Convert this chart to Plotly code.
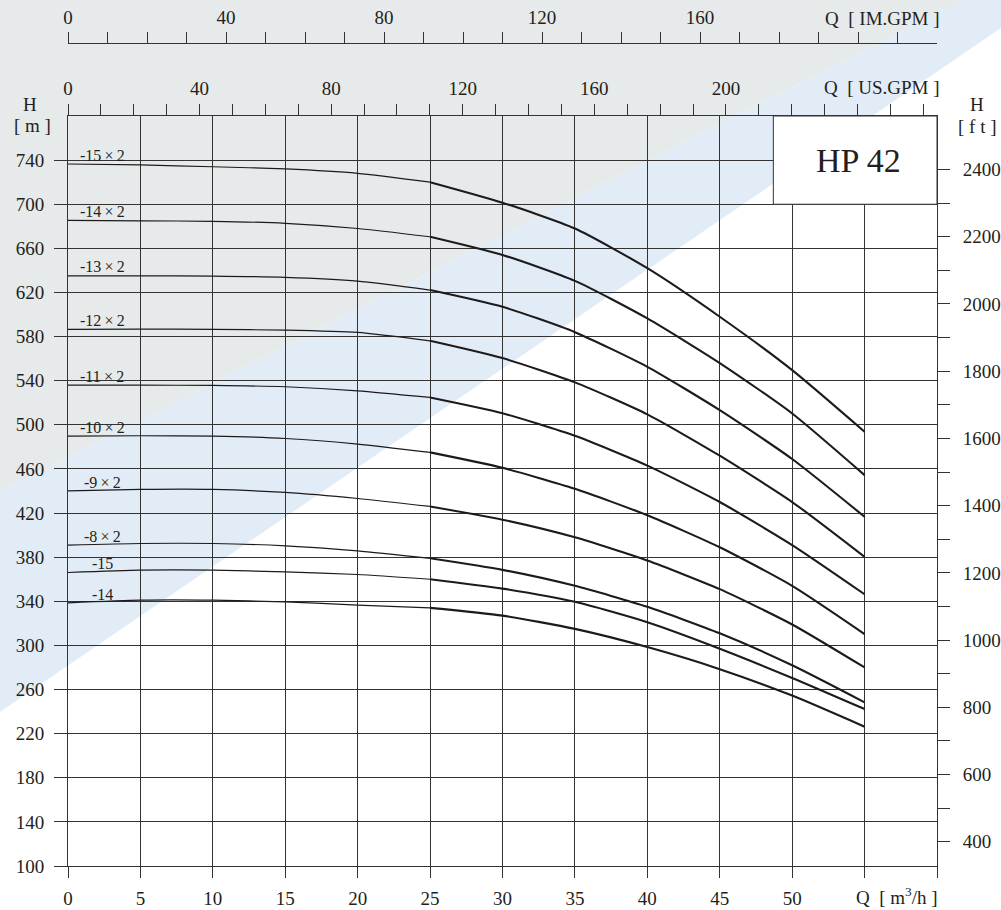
import plotly.graph_objects as go

# ---------------- data ----------------
Q = [0, 5, 10, 15, 20, 25, 30, 35, 40, 45, 50, 55]          # m3/h
labels = ["-15\u2009×\u20092", "-14\u2009×\u20092", "-13\u2009×\u20092", "-12\u2009×\u20092",
          "-11\u2009×\u20092", "-10\u2009×\u20092", "-9\u2009×\u20092", "-8\u2009×\u20092", "-15", "-14"]
H_15x2 = [736.5, 735.6, 734.0, 732.0, 728.0, 720.0, 701.4, 678.0, 642.0, 598.0, 549.6, 493.7]
H_14x2 = [685.4, 685.0, 684.5, 682.7, 678.0, 670.5, 654.0, 630.5, 596.5, 556.0, 510.3, 454.4]
H_13x2 = [635.1, 635.1, 634.8, 633.7, 630.3, 622.2, 607.0, 584.0, 552.6, 513.3, 469.0, 416.6]
H_12x2 = [586.5, 586.8, 586.5, 585.9, 583.8, 576.2, 560.5, 538.5, 509.5, 472.0, 430.0, 380.3]
H_11x2 = [536.0, 536.0, 535.7, 534.5, 530.8, 524.8, 510.5, 490.0, 463.0, 430.0, 391.0, 346.4]
H_10x2 = [489.8, 490.1, 489.8, 487.6, 482.5, 475.0, 461.0, 442.0, 418.0, 389.0, 354.0, 310.3]
H_9x2 = [440.1, 441.4, 441.4, 438.7, 433.2, 426.0, 414.0, 398.0, 377.0, 351.0, 319.0, 280.0]
H_8x2 = [390.9, 392.4, 392.4, 390.3, 385.7, 379.0, 368.5, 354.0, 335.0, 311.0, 282.0, 248.4]
H_15 = [366.1, 368.2, 368.2, 366.7, 364.3, 360.0, 351.5, 339.5, 321.0, 297.0, 270.5, 242.3]
H_14 = [338.6, 341.0, 341.0, 339.5, 336.5, 334.0, 327.0, 315.0, 298.5, 278.5, 254.5, 226.3]
curves = [H_15x2, H_14x2, H_13x2, H_12x2, H_11x2, H_10x2, H_9x2, H_8x2, H_15, H_14]

x_ticks = list(range(0, 61, 5))
x_ticktext = [str(v) if v <= 50 else "" for v in x_ticks]
h_ticks = list(range(100, 741, 40))
ft_ticks = list(range(400, 2401, 100))
ft_ticktext = [str(v) if v % 200 == 0 else "" for v in ft_ticks]
us_ticks = list(range(0, 261, 10))
us_ticktext = [str(v) if (v % 40 == 0 and v <= 200) else "" for v in us_ticks]
im_ticks = list(range(0, 211, 10))
im_ticktext = [str(v) if (v % 40 == 0 and v <= 160) else "" for v in im_ticks]

M3H_TO_USGPM = 4.40287
M3H_TO_IMGPM = 3.66615
M_TO_FT = 3.28084
Q_MAX = 60
H_MIN, H_MAX = 100, 780

# ---------------- layout helpers ----------------
W, HGT = 1001, 910
ML, MR, MT, MB = 68, 64, 43, 44
PW, PH = W - ML - MR, HGT - MT - MB
PLOT_TOP_PX = 116
YDOM_TOP = (HGT - MB - PLOT_TOP_PX) / PH


def px(xp):
    return (xp - ML) / PW


def py(yp):
    return (HGT - MB - yp) / PH


FONT = "Liberation Serif, Times New Roman, serif"
TXT = "#231f20"
GRID = "#333333"
LINE = "#1e1a1b"

fig = go.Figure()

for lab, h in zip(labels, curves):
    fig.add_trace(go.Scatter(x=Q[:6], y=h[:6], mode="lines", hoverinfo="skip",
                             line=dict(color=LINE, width=1.2, shape="spline", smoothing=0.6),
                             showlegend=False))
    fig.add_trace(go.Scatter(x=Q[5:], y=h[5:], mode="lines", hoverinfo="skip",
                             line=dict(color=LINE, width=2.1, shape="spline", smoothing=0.6),
                             showlegend=False))
    fig.add_annotation(x=2.35, y=h[0] + 8, xref="x", yref="y", text=lab, showarrow=False,
                       xanchor="center", yanchor="middle",
                       font=dict(family=FONT, size=16, color=TXT))

# invisible traces so the secondary scales (US/IM gallons, feet) are drawn
fig.add_trace(go.Scatter(x=[0, Q_MAX * M3H_TO_USGPM], y=[H_MIN, H_MIN], xaxis="x2", yaxis="y",
                         mode="markers", marker=dict(opacity=0), hoverinfo="skip", showlegend=False))
fig.add_trace(go.Scatter(x=[0, Q_MAX * M3H_TO_IMGPM], y=[H_MIN, H_MIN], xaxis="x3", yaxis="y",
                         mode="markers", marker=dict(opacity=0), hoverinfo="skip", showlegend=False))
fig.add_trace(go.Scatter(x=[0, 0], y=[H_MIN * M_TO_FT, H_MAX * M_TO_FT], xaxis="x", yaxis="y2",
                         mode="markers", marker=dict(opacity=0), hoverinfo="skip", showlegend=False))

# background stripes (grey top-left, light-blue diagonal band)
grey_path = (f"M {px(0)},{py(0)} L {px(963)},{py(0)} L {px(0)},{py(492)} Z")
blue_path = (f"M {px(963)},{py(0)} L {px(1001)},{py(0)} L {px(1001)},{py(28)} "
             f"L {px(0)},{py(712)} L {px(0)},{py(492)} Z")
fig.add_shape(type="path", path=grey_path, xref="paper", yref="paper",
              fillcolor="#e7eaeb", line=dict(width=0), layer="below")
fig.add_shape(type="path", path=blue_path, xref="paper", yref="paper",
              fillcolor="#e1ecf6", line=dict(width=0), layer="below")

# HP 42 box
fig.add_shape(type="rect", xref="x", yref="y", x0=48.7, x1=Q_MAX, y0=700, y1=H_MAX,
              fillcolor="white", line=dict(color=GRID, width=1), layer="above")
fig.add_annotation(x=px(858), y=py(160), xref="paper", yref="paper", text="HP 42",
                   showarrow=False, xanchor="center", yanchor="middle",
                   font=dict(family=FONT, size=34, color=TXT))

# axis titles
for txt, xc, yc in [("H", 30, 104), ("[ m ]", 32, 126), ("H", 977, 104), ("[ f t ]", 977, 127)]:
    fig.add_annotation(x=px(xc), y=py(yc), xref="paper", yref="paper", text=txt,
                       showarrow=False, xanchor="center", yanchor="middle",
                       font=dict(family=FONT, size=19, color=TXT))
for txt, xr, yc in [("Q  [ IM.GPM ]", 942, 18), ("Q  [ US.GPM ]", 942, 88),
                    ("Q  [ m<sup>3</sup>/h ]", 940, 896)]:
    fig.add_annotation(x=px(xr), y=py(yc), xref="paper", yref="paper", text=txt,
                       showarrow=False, xanchor="right", yanchor="middle",
                       font=dict(family=FONT, size=19, color=TXT))

tickfont = dict(family=FONT, size=19, color=TXT)
common = dict(showgrid=False, zeroline=False, showline=True, linecolor=GRID, linewidth=1,
              ticks="outside", tickcolor=GRID, tickwidth=1, tickfont=tickfont,
              automargin=False, tickmode="array")

fig.update_layout(
    width=W, height=HGT, autosize=False,
    margin=dict(l=ML, r=MR, t=MT, b=MB, autoexpand=False),
    paper_bgcolor="white", plot_bgcolor="rgba(0,0,0,0)",
    showlegend=False,
    xaxis=dict(common, range=[0, Q_MAX], tickvals=x_ticks, ticktext=x_ticktext,
               showgrid=True, gridcolor=GRID, gridwidth=1,
               ticklen=11, ticklabelstandoff=4, anchor="y"),
    xaxis2=dict(common, range=[0, Q_MAX * M3H_TO_USGPM], overlaying="x", side="top", anchor="y",
                tickvals=us_ticks, ticktext=us_ticktext, ticklen=11, ticklabelstandoff=1),
    xaxis3=dict(common, range=[0, Q_MAX * M3H_TO_IMGPM], overlaying="x", side="top",
                anchor="free", position=1.0,
                tickvals=im_ticks, ticktext=im_ticktext, ticklen=11, ticklabelstandoff=0),
    yaxis=dict(common, range=[H_MIN, H_MAX], domain=[0, YDOM_TOP], tickvals=h_ticks,
               showgrid=True, gridcolor=GRID, gridwidth=1,
               ticklen=13, ticklabelstandoff=6),
    yaxis2=dict(common, range=[H_MIN * M_TO_FT, H_MAX * M_TO_FT], domain=[0, YDOM_TOP],
                overlaying="y", side="right", anchor="x",
                tickvals=ft_ticks, ticktext=ft_ticktext, ticklen=12, ticklabelstandoff=9),
)

fig.write_html("out.html", config=dict(displayModeBar=False, responsive=False),
               post_script="document.body.style.margin='0px';document.body.style.overflow='hidden';")
